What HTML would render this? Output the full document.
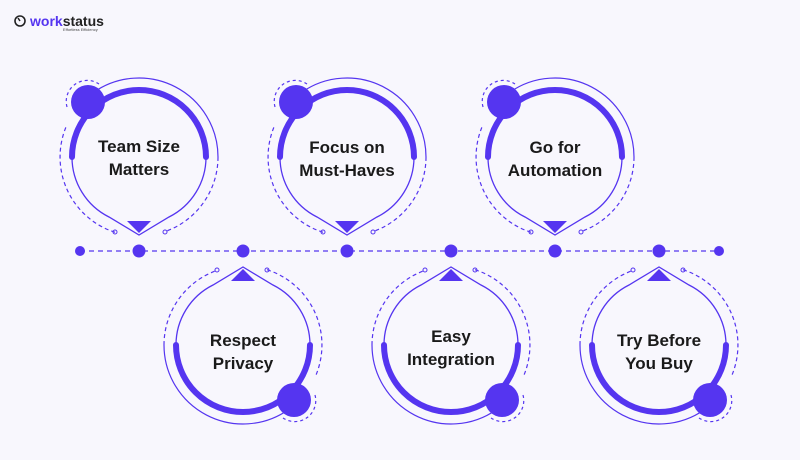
<!DOCTYPE html>
<html><head><meta charset="utf-8"><style>
html,body{margin:0;padding:0;background:#f8f7fd;}
svg{display:block}
text{font-family:"Liberation Sans",sans-serif;}
</style></head><body>
<svg width="800" height="460" viewBox="0 0 800 460" xmlns="http://www.w3.org/2000/svg">
<defs>
<g id="node" fill="none" stroke="#5535f0">
  <path d="M -45.3 -64.7 A 79 79 0 0 1 79 0" stroke-width="1.2"/>
  <path d="M 79 0 A 79 79 0 0 1 26 74.6" stroke-width="1.2" stroke-dasharray="4 3"/>
  <path d="M -24 75.3 A 79 79 0 0 1 -73 -30" stroke-width="1.2" stroke-dasharray="4 3"/>
  <path d="M -72 -50 A 21 21 0 0 1 -40 -73" stroke-width="1.2" stroke-dasharray="3 3"/>
  <circle cx="26" cy="75" r="2" stroke-width="1"/>
  <circle cx="-24" cy="75" r="2" stroke-width="1"/>
  <path d="M -67 0 A 67 67 0 0 1 67 0" stroke-width="6" stroke-linecap="round"/>
  <path d="M 67 0 A 67 67 0 0 1 30 60 L 0 78 L -30 60 A 67 67 0 0 1 -67 0" stroke-width="1.3"/>
  <polygon points="-12,64 12,64 0,76" fill="#5535f0" stroke="none"/>
  <circle cx="-51" cy="-55" r="17" fill="#5535f0" stroke="none"/>
</g>
</defs>
<circle cx="20" cy="21" r="5" fill="none" stroke="#222" stroke-width="1.6"/>
<line x1="20" y1="21" x2="18" y2="18" stroke="#222" stroke-width="1.5"/>
<text x="30" y="26" font-size="14" font-weight="bold" fill="#5535f0">work<tspan fill="#222">status</tspan></text>
<text x="63" y="31" font-size="4" fill="#444">Effortless Efficiency</text>

<line x1="80" y1="251" x2="719" y2="251" stroke="#5535f0" stroke-width="1.3" stroke-dasharray="5 4"/>
<g fill="#5535f0">
<circle cx="80" cy="251" r="5"/>
<circle cx="139" cy="251" r="6.5"/>
<circle cx="243" cy="251" r="6.5"/>
<circle cx="347" cy="251" r="6.5"/>
<circle cx="451" cy="251" r="6.5"/>
<circle cx="555" cy="251" r="6.5"/>
<circle cx="659" cy="251" r="6.5"/>
<circle cx="719" cy="251" r="5"/>
</g>

<use href="#node" transform="translate(139,157)"/>
<use href="#node" transform="translate(347,157)"/>
<use href="#node" transform="translate(555,157)"/>
<use href="#node" transform="translate(243,345) rotate(180)"/>
<use href="#node" transform="translate(451,345) rotate(180)"/>
<use href="#node" transform="translate(659,345) rotate(180)"/>

<g font-size="17" font-weight="bold" fill="#1a1a1a" text-anchor="middle">
<text x="139" y="152">Team Size</text><text x="139" y="175">Matters</text>
<text x="347" y="153">Focus on</text><text x="347" y="176">Must-Haves</text>
<text x="555" y="153">Go for</text><text x="555" y="176">Automation</text>
<text x="243" y="346">Respect</text><text x="243" y="369">Privacy</text>
<text x="451" y="342">Easy</text><text x="451" y="365">Integration</text>
<text x="659" y="346">Try Before</text><text x="659" y="369">You Buy</text>
</g>
</svg>
</body></html>
